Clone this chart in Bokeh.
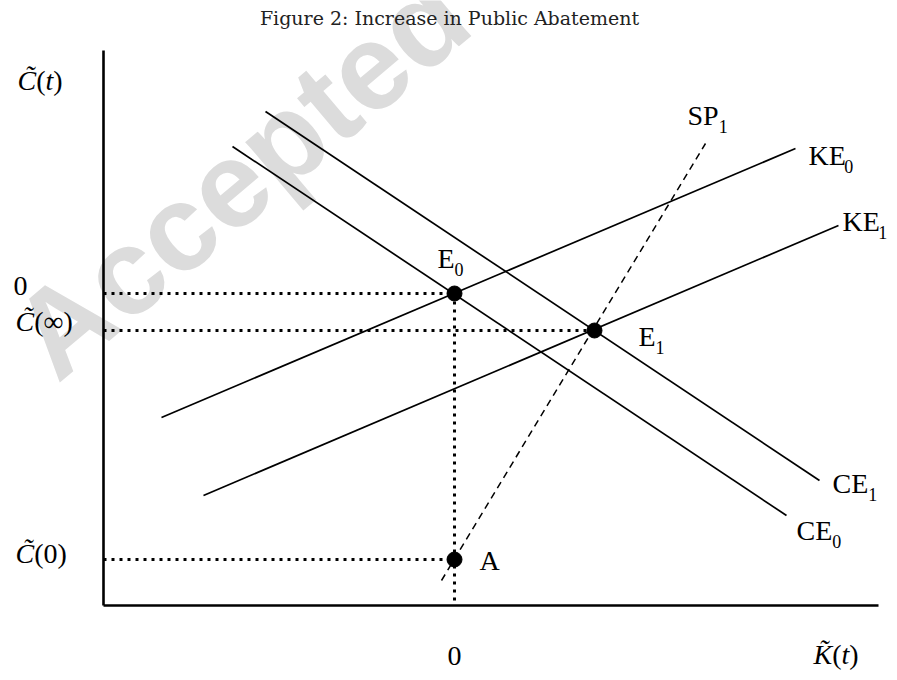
from bokeh.plotting import figure
from bokeh.models import Range1d, ColumnDataSource
from bokeh.core.properties import value
from bokeh.embed import file_html
from bokeh.resources import INLINE

# ---- data: diagram units, origin at the axes corner, K to the right, C upward ----
title = "Figure 2: Increase in Public Abatement"
axis_k_max = 775
axis_c_max = 555

ke0_k = [58, 692];  ke0_c = [188, 457]
ke1_k = [100, 735]; ke1_c = [110, 380]
ce0_k = [129, 683]; ce0_c = [459, 90]
ce1_k = [162, 716]; ce1_c = [494, 125]
sp1_k = [338, 602]; sp1_c = [25, 462]

pt_names = ["E0", "E1", "A"]
pt_k = [351, 491, 351]
pt_c = [312, 275, 46]

# curve labels: (main, subscript, x, baseline y)
curve_labels = [("SP", "1", 584, 478), ("KE", "0", 705, 438), ("KE", "1", 739, 372),
                ("CE", "1", 729, 110), ("CE", "0", 693, 63),
                ("E", "0", 334, 335), ("E", "1", 535, 257), ("A", "", 376, 33)]
tick_zero_k = (344, -62)
tick_zero_c = (-90, 308)

SERIF = "Liberation Serif"
FS = 28
SUB = 18
DY_MAIN = 12   # compensation for the renderer's baseline placement
DY_SUB = 8

p = figure(width=889, height=672, output_backend="svg", toolbar_location=None,
           x_range=Range1d(-103, 786), y_range=Range1d(-67, 605), min_border=0)
p.axis.visible = False
p.grid.visible = False
p.outline_line_color = None
p.background_fill_color = "white"

# watermark
p.text(x=[137], y=[430], text=["Accepted"], angle=0.70, text_align="center",
       text_baseline="middle", text_font=value("Liberation Sans"), text_font_style="bold",
       text_font_size="122px", text_color="#dcdcdc")

# axes
p.line([0, 0], [0, axis_c_max], line_color="black", line_width=2.6)
p.line([0, axis_k_max], [0, 0], line_color="black", line_width=2.6)

# dotted guides derived from the equilibrium points
e0k, e1k, ak = pt_k
e0c, e1c, ac = pt_c
dot = dict(line_color="black", line_width=3, line_dash="3 5")
p.line([0, e0k], [e0c, e0c], **dot)
p.line([0, e1k], [e1c, e1c], **dot)
p.line([0, ak], [ac, ac], **dot)
p.line([e0k, e0k], [e0c, 0], **dot)

# schedules
for xs, ys in [(ke0_k, ke0_c), (ke1_k, ke1_c), (ce0_k, ce0_c), (ce1_k, ce1_c)]:
    p.line(xs, ys, line_color="black", line_width=1.7)
p.line(sp1_k, sp1_c, line_color="black", line_width=1.5, line_dash="7 5")

# points
p.scatter(pt_k, pt_c, size=15, color="black")

# ---- texts ----
W = {"C": 0.667, "K": 0.667, "(": 0.333, ")": 0.333, "t": 0.278, "0": 0.5, "∞": 0.713,
     "S": 0.556, "P": 0.556, "E": 0.611, "A": 0.722}

tx, ty, tt, tst, tsz = [], [], [], [], []

def add(x, y, t, style="normal", size=FS, dy=DY_MAIN):
    tx.append(x); ty.append(y + dy); tt.append(t); tst.append(style); tsz.append(f"{size}px")

for main, sub, x, y in curve_labels:
    add(x, y, main)
    if sub:
        w = sum(W[c] for c in main) * FS
        add(x + w, y - 7, sub, size=SUB, dy=DY_SUB)

def compound(x, y, parts):
    for t, st in parts:
        add(x, y, t, st)
        x += W[t[0]] * FS

compound(-86, 513, [("C\u0303", "italic"), ("(", "normal"), ("t", "italic"), (")", "normal")])
compound(-88, 272, [("C\u0303", "italic"), ("(", "normal"), ("∞", "normal"), (")", "normal")])
compound(-88, 40, [("C\u0303", "italic"), ("(", "normal"), ("0", "normal"), (")", "normal")])
compound(710, -61, [("K\u0303", "italic"), ("(", "normal"), ("t", "italic"), (")", "normal")])
add(tick_zero_c[0], tick_zero_c[1], "0")
add(tick_zero_k[0], tick_zero_k[1], "0")

src = ColumnDataSource(dict(x=tx, y=ty, text=tt, style=tst, size=tsz))
p.text(x="x", y="y", text="text", source=src, text_font=value(SERIF),
       text_font_style="style", text_font_size="size", text_baseline="alphabetic",
       text_align="left", text_color="black")

p.text(x=[346], y=[588], text=[title], text_align="center", text_baseline="middle",
       text_font=value("DejaVu Serif"), text_font_size="19px", text_color="#222222")

open("out.html", "w").write(file_html(p, INLINE))
